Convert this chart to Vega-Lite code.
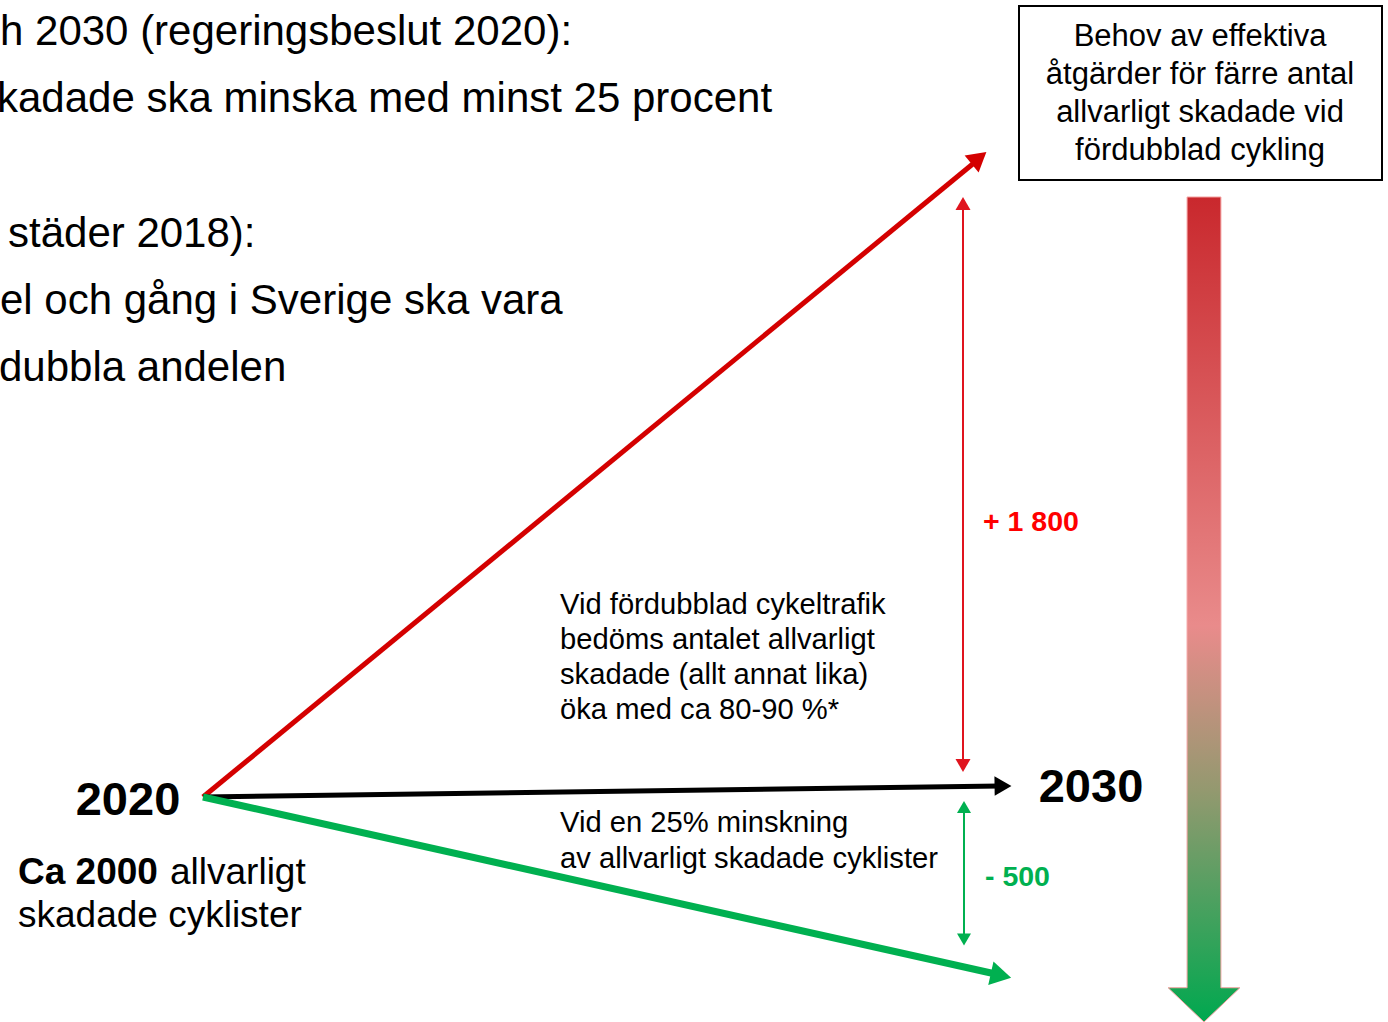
{
  "$schema": "https://vega.github.io/schema/vega-lite/v6.json",
  "width": 1388,
  "height": 1022,
  "autosize": {"type": "none"},
  "padding": 0,
  "background": "white",
  "config": {"view": {"stroke": null}, "text": {"font": "Liberation Sans"}},
  "encoding": {
    "x": {"type": "quantitative", "scale": {"domain": [0, 1388], "nice": false, "zero": false}, "axis": null},
    "y": {"type": "quantitative", "scale": {"domain": [0, 1022], "nice": false, "zero": false, "reverse": true}, "axis": null}
  },
  "layer": [
    {
      "data": {"values": [{"x": 1019, "y": 6, "x2": 1382, "y2": 180}]},
      "mark": {"type": "rect", "fill": "white", "stroke": "black", "strokeWidth": 2},
      "encoding": {"x": {"field": "x", "type": "quantitative"}, "x2": {"field": "x2"}, "y": {"field": "y", "type": "quantitative"}, "y2": {"field": "y2"}}
    },
    {
      "data": {"values": [
        {"x": 1200, "y": 46, "t": "Behov av effektiva"},
        {"x": 1200, "y": 84, "t": "åtgärder för färre antal"},
        {"x": 1200, "y": 122, "t": "allvarligt skadade vid"},
        {"x": 1200, "y": 160, "t": "fördubblad cykling"}
      ]},
      "mark": {"type": "text", "align": "center", "baseline": "alphabetic", "fontSize": 31, "color": "black"},
      "encoding": {"x": {"field": "x", "type": "quantitative"}, "y": {"field": "y", "type": "quantitative"}, "text": {"field": "t"}}
    },
    {
      "data": {"values": [{"x": 1204, "y": 609.5}]},
      "mark": {
        "type": "point",
        "filled": true,
        "opacity": 1,
        "size": 680625,
        "shape": "M-0.041,-1L0.041,-1L0.041,0.917L0.087,0.917L0,1L-0.087,0.917L-0.041,0.917Z",
        "fill": {"gradient": "linear", "x1": 0, "y1": 0, "x2": 0, "y2": 1, "stops": [
          {"offset": 0, "color": "#c9282d"},
          {"offset": 0.52, "color": "#e98b8b"},
          {"offset": 0.72, "color": "#93996f"},
          {"offset": 1, "color": "#00a84f"}
        ]},
        "stroke": "#f4a0a0",
        "strokeWidth": 1
      },
      "encoding": {"x": {"field": "x", "type": "quantitative"}, "y": {"field": "y", "type": "quantitative"}}
    },
    {
      "data": {"values": [{"x": 203, "y": 797, "x2": 980, "y2": 158}]},
      "mark": {"type": "rule", "color": "#d40000", "strokeWidth": 5, "strokeCap": "butt"},
      "encoding": {"x": {"field": "x", "type": "quantitative"}, "y": {"field": "y", "type": "quantitative"}, "x2": {"field": "x2"}, "y2": {"field": "y2"}}
    },
    {
      "data": {"values": [{"x": 203, "y": 797, "x2": 1000, "y2": 786}]},
      "mark": {"type": "rule", "color": "black", "strokeWidth": 5, "strokeCap": "butt"},
      "encoding": {"x": {"field": "x", "type": "quantitative"}, "y": {"field": "y", "type": "quantitative"}, "x2": {"field": "x2"}, "y2": {"field": "y2"}}
    },
    {
      "data": {"values": [{"x": 203, "y": 797, "x2": 1000, "y2": 975}]},
      "mark": {"type": "rule", "color": "#00b050", "strokeWidth": 7, "strokeCap": "butt"},
      "encoding": {"x": {"field": "x", "type": "quantitative"}, "y": {"field": "y", "type": "quantitative"}, "x2": {"field": "x2"}, "y2": {"field": "y2"}}
    },
    {
      "data": {"values": [{"x": 979, "y": 158}]},
      "mark": {"type": "point", "shape": "triangle-up", "filled": true, "opacity": 1, "color": "#d40000", "size": 484, "angle": 50.5},
      "encoding": {"x": {"field": "x", "type": "quantitative"}, "y": {"field": "y", "type": "quantitative"}}
    },
    {
      "data": {"values": [{"x": 1003, "y": 786}]},
      "mark": {"type": "point", "shape": "triangle-up", "filled": true, "opacity": 1, "color": "black", "size": 380, "angle": 89.2},
      "encoding": {"x": {"field": "x", "type": "quantitative"}, "y": {"field": "y", "type": "quantitative"}}
    },
    {
      "data": {"values": [{"x": 1001, "y": 975.5}]},
      "mark": {"type": "point", "shape": "triangle-up", "filled": true, "opacity": 1, "color": "#00b050", "size": 576, "angle": 102.6},
      "encoding": {"x": {"field": "x", "type": "quantitative"}, "y": {"field": "y", "type": "quantitative"}}
    },
    {
      "data": {"values": [{"x": 963, "y": 203, "x2": 963, "y2": 766}]},
      "mark": {"type": "rule", "color": "#e0141e", "strokeWidth": 2},
      "encoding": {"x": {"field": "x", "type": "quantitative"}, "y": {"field": "y", "type": "quantitative"}, "x2": {"field": "x2"}, "y2": {"field": "y2"}}
    },
    {
      "data": {"values": [{"x": 963, "y": 203.5}]},
      "mark": {"type": "point", "shape": "triangle-up", "filled": true, "opacity": 1, "color": "#e0141e", "size": 225},
      "encoding": {"x": {"field": "x", "type": "quantitative"}, "y": {"field": "y", "type": "quantitative"}}
    },
    {
      "data": {"values": [{"x": 963, "y": 765.5}]},
      "mark": {"type": "point", "shape": "triangle-down", "filled": true, "opacity": 1, "color": "#e0141e", "size": 225},
      "encoding": {"x": {"field": "x", "type": "quantitative"}, "y": {"field": "y", "type": "quantitative"}}
    },
    {
      "data": {"values": [{"x": 964, "y": 806, "x2": 964, "y2": 940}]},
      "mark": {"type": "rule", "color": "#00b050", "strokeWidth": 2},
      "encoding": {"x": {"field": "x", "type": "quantitative"}, "y": {"field": "y", "type": "quantitative"}, "x2": {"field": "x2"}, "y2": {"field": "y2"}}
    },
    {
      "data": {"values": [{"x": 964, "y": 807}]},
      "mark": {"type": "point", "shape": "triangle-up", "filled": true, "opacity": 1, "color": "#00b050", "size": 196},
      "encoding": {"x": {"field": "x", "type": "quantitative"}, "y": {"field": "y", "type": "quantitative"}}
    },
    {
      "data": {"values": [{"x": 964, "y": 939.5}]},
      "mark": {"type": "point", "shape": "triangle-down", "filled": true, "opacity": 1, "color": "#00b050", "size": 196},
      "encoding": {"x": {"field": "x", "type": "quantitative"}, "y": {"field": "y", "type": "quantitative"}}
    },
    {
      "data": {"values": [
        {"x": 0, "y": 45, "t": "h 2030 (regeringsbeslut 2020):"},
        {"x": -3, "y": 112, "t": "kadade ska minska med minst 25 procent"},
        {"x": 8, "y": 247, "t": "städer 2018):"},
        {"x": 0, "y": 314, "t": "el och gång i Sverige ska vara"},
        {"x": -1, "y": 381, "t": "dubbla andelen"}
      ]},
      "mark": {"type": "text", "align": "left", "baseline": "alphabetic", "fontSize": 42, "color": "black"},
      "encoding": {"x": {"field": "x", "type": "quantitative"}, "y": {"field": "y", "type": "quantitative"}, "text": {"field": "t"}}
    },
    {
      "data": {"values": [
        {"x": 128, "y": 815, "t": "2020"},
        {"x": 1091, "y": 802, "t": "2030"}
      ]},
      "mark": {"type": "text", "align": "center", "baseline": "alphabetic", "fontSize": 47, "fontWeight": "bold", "color": "black"},
      "encoding": {"x": {"field": "x", "type": "quantitative"}, "y": {"field": "y", "type": "quantitative"}, "text": {"field": "t"}}
    },
    {
      "data": {"values": [{"x": 18, "y": 884, "t": "Ca 2000"}]},
      "mark": {"type": "text", "align": "left", "baseline": "alphabetic", "fontSize": 37, "fontWeight": "bold", "color": "black"},
      "encoding": {"x": {"field": "x", "type": "quantitative"}, "y": {"field": "y", "type": "quantitative"}, "text": {"field": "t"}}
    },
    {
      "data": {"values": [
        {"x": 170, "y": 884, "t": "allvarligt"},
        {"x": 18, "y": 927, "t": "skadade cyklister"}
      ]},
      "mark": {"type": "text", "align": "left", "baseline": "alphabetic", "fontSize": 37, "color": "black"},
      "encoding": {"x": {"field": "x", "type": "quantitative"}, "y": {"field": "y", "type": "quantitative"}, "text": {"field": "t"}}
    },
    {
      "data": {"values": [{"x": 983, "y": 531, "t": "+ 1 800"}]},
      "mark": {"type": "text", "align": "left", "baseline": "alphabetic", "fontSize": 28.5, "fontWeight": "bold", "color": "#ff0000"},
      "encoding": {"x": {"field": "x", "type": "quantitative"}, "y": {"field": "y", "type": "quantitative"}, "text": {"field": "t"}}
    },
    {
      "data": {"values": [{"x": 985, "y": 886, "t": "- 500"}]},
      "mark": {"type": "text", "align": "left", "baseline": "alphabetic", "fontSize": 28.5, "fontWeight": "bold", "color": "#00b050"},
      "encoding": {"x": {"field": "x", "type": "quantitative"}, "y": {"field": "y", "type": "quantitative"}, "text": {"field": "t"}}
    },
    {
      "data": {"values": [
        {"x": 560, "y": 614, "t": "Vid fördubblad cykeltrafik"},
        {"x": 560, "y": 649, "t": "bedöms antalet allvarligt"},
        {"x": 560, "y": 684, "t": "skadade (allt annat lika)"},
        {"x": 560, "y": 719, "t": "öka med ca 80-90 %*"},
        {"x": 560, "y": 832, "t": "Vid en 25% minskning"},
        {"x": 560, "y": 868, "t": "av allvarligt skadade cyklister"}
      ]},
      "mark": {"type": "text", "align": "left", "baseline": "alphabetic", "fontSize": 29.2, "color": "black"},
      "encoding": {"x": {"field": "x", "type": "quantitative"}, "y": {"field": "y", "type": "quantitative"}, "text": {"field": "t"}}
    }
  ]
}
